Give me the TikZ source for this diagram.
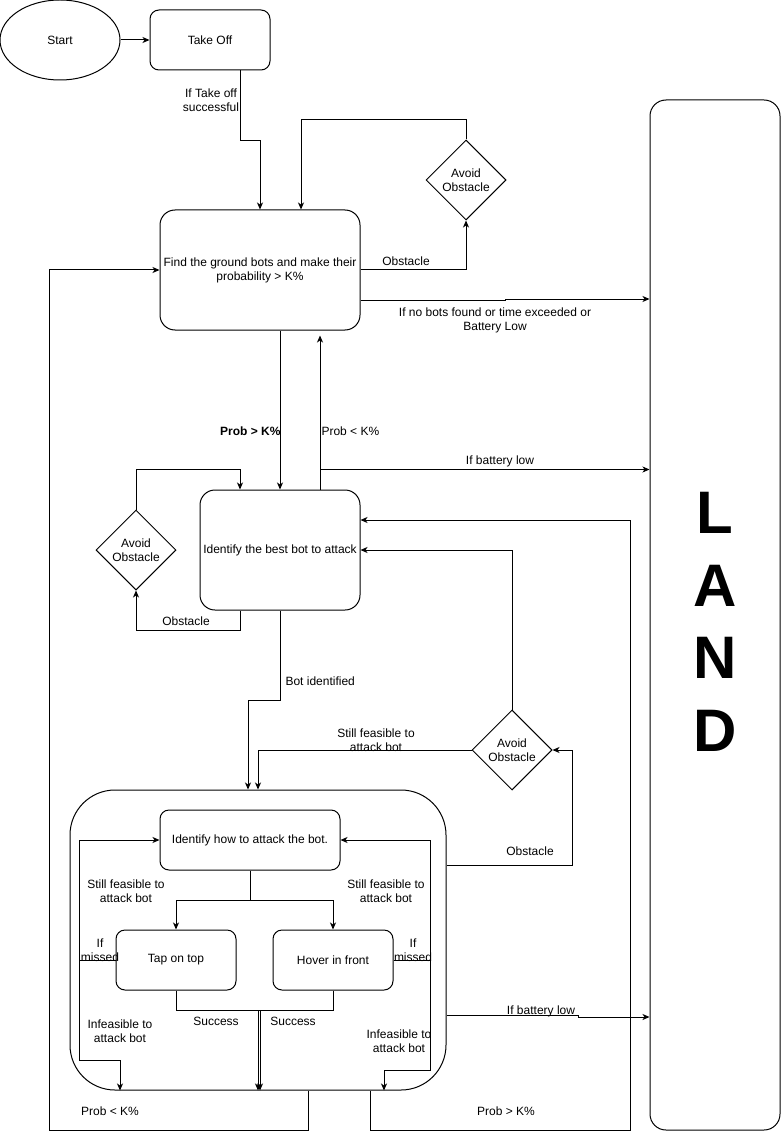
\documentclass[tikz,border=0pt]{standalone}
\usepackage{fontspec}
\setmainfont{Liberation Sans}
\usetikzlibrary{shapes.geometric,arrows.meta,calc}
\begin{document}
\begin{tikzpicture}[x=1pt,y=-1pt,
  font=\fontsize{12}{14}\selectfont,
  line width=1pt,
  every node/.style={inner sep=1pt},
  box/.style={draw, rounded corners=9pt, align=center},
  dia/.style={draw, diamond, aspect=1, minimum width=80pt, minimum height=80pt, inner sep=0pt, align=center},
  lbl/.style={align=center},
  arr/.style={-{Stealth[length=7pt,width=6pt,inset=2pt]}}]
\useasboundingbox (0,0) rectangle (781,1139);

% nodes
\node[draw, ellipse, minimum width=120pt, minimum height=80pt] (start) at (60,40) {Start};
\node[box, minimum width=120pt, minimum height=60pt] (takeoff) at (210,40) {Take Off};
\node[box, rounded corners=15pt, minimum width=200pt, minimum height=120pt] (find) at (260,270) {Find the ground bots and make their\\probability > K\%};
\node[dia] (av1) at (466,180) {Avoid\\Obstacle};
\node[box, rounded corners=15pt, minimum width=160pt, minimum height=120pt] (best) at (280,550) {Identify the best bot to attack};
\node[dia] (av2) at (136,550) {Avoid\\Obstacle};
\node[dia] (av3) at (512,750) {Avoid\\Obstacle};
\node[box, rounded corners=45pt, minimum width=376pt, minimum height=300pt] (cont) at (258,940) {};
\node[box, minimum width=180pt, minimum height=60pt] (how) at (250,840) {Identify how to attack the bot.};
\node[box, minimum width=120pt, minimum height=60pt] (tap) at (176,960) {Tap on top};
\node[box, minimum width=120pt, minimum height=60pt] (hover) at (333,960) {Hover in front};
\node[box, rounded corners=16pt, minimum width=130pt, minimum height=1030pt] (land) at (715,615) {};
\node[align=center, font=\fontsize{60}{72.5}\selectfont\bfseries] (landtxt) at (715,622) {L\\A\\N\\D};

% top part
\draw[arr] (start) -- (takeoff);
\draw[arr] ([shift={(30,0)}]takeoff.south) -- ++(0,70) -| (find.north);
\node[lbl] (l1) at (211,100) {If Take off\\successful};
\draw[arr] (av1.north) -- ++(0,-20) -| ([shift={(41,0)}]find.north);
\draw[arr] (find.east) -| (av1.south);
\node[lbl] (l2) at (406,261) {Obstacle};
\draw[arr] ([shift={(0,30)}]find.east) -- ++(145,0) -- ++(0,-1) -- ([shift={(0,29)}]find.east -| land.west);
\node[lbl] (l3) at (495,320) {If no bots found or time exceeded or\\Battery Low};

% find <-> best
\draw[arr] ([shift={(20,0)}]find.south) -- (best.north);
\node[lbl, anchor=east, font=\fontsize{12}{14}\selectfont\bfseries] (l4) at (282,431) {Prob > K\%};
\draw[arr] ([shift={(40,0)}]best.north) -- ([shift={(60,5)}]find.south);
\node[lbl, anchor=west] (l5) at (320,431) {Prob < K\%};
\draw[arr] ([shift={(40,-20)}]best.north) -- ([shift={(0,-20)}]best.north -| land.west);
\node[lbl] (l6) at (500,461) {If battery low};

% av2 loop
\draw[arr] ([shift={(-40,0)}]best.south) -- ++(0,20) -| (av2.south);
\node[lbl] (l7) at (186,621) {Obstacle};
\draw[arr] (av2.north) -- ++(0,-40) -| ([shift={(-40,0)}]best.north);

% best -> container
\draw[arr] (best.south) -- ++(0,90) -| ([shift={(-10,0)}]cont.north);
\node[lbl, anchor=west] (l8) at (284,681) {Bot identified};

% av3
\draw[arr] (av3.west) -| (cont.north);
\node[lbl] (l9) at (376,740) {Still feasible to\\attack bot};
\draw[arr] (av3.north) |- (best.east);
\draw[arr] ([shift={(0,-75)}]cont.east) -| ([shift={(20,0)}]av3.east) -- (av3.east);
\node[lbl] (l10) at (530,851) {Obstacle};

% loops below container
\draw[arr] ([shift={(50,0)}]cont.south) -- ++(0,40) -| ([shift={(-110,0)}]find.west) -- (find.west);
\node[lbl] (l11) at (110,1111) {Prob < K\%};
\draw[arr] ([shift={(112,0)}]cont.south) -- ++(0,40) -| ([shift={(270,-30)}]best.east) -- ([shift={(0,-30)}]best.east);
\node[lbl] (l12) at (506,1111) {Prob > K\%};
\draw[arr] ([shift={(0,75)}]cont.east) -- ++(132,0) -- ++(0,2) -- ([shift={(0,77)}]cont.east -| land.west);
\node[lbl] (l13) at (541,1011) {If battery low};

% inside container
\draw[arr] (how.south) -- ++(0,30) -| (tap.north);
\draw[arr] (how.south) -- ++(0,30) -| (hover.north);
\draw[arr] (tap.south) -- ++(0,20) -| ([shift={(2,0)}]cont.south);
\draw[arr] (hover.south) -- ++(0,20) -| (cont.south);
\node[lbl] (l14) at (216,1021) {Success};
\node[lbl] (l15) at (293,1021) {Success};

\draw[arr] (tap.west) -- ++(-36,0) |- (how.west);
\draw[arr] (tap.west) -- ++(-36,0) -- ++(0,100) -| ([shift={(-138,0)}]cont.south);
\node[lbl] (l16) at (100,950) {If\\missed};
\node[lbl] (l17) at (126,891) {Still feasible to\\attack bot};
\node[lbl] (l18) at (120,1031) {Infeasible to\\attack bot};

\draw[arr] (hover.east) -- ++(37,0) |- (how.east);
\draw[arr] (hover.east) -- ++(37,0) -- ++(0,110) -| ([shift={(126,0)}]cont.south);
\node[lbl] (l19) at (413,950) {If\\missed};
\node[lbl] (l20) at (386,891) {Still feasible to\\attack bot};
\node[lbl] (l21) at (399,1041) {Infeasible to\\attack bot};
\end{tikzpicture}
\end{document}
